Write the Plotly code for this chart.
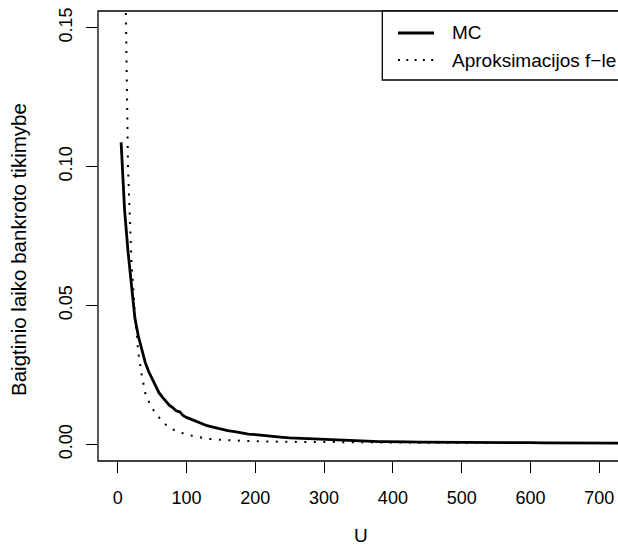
import plotly.graph_objects as go

# ---- data ----
u_mc = [5, 10, 15, 20, 25, 30, 35, 40, 45, 50, 55, 60, 65, 70, 75, 80, 85, 90, 95, 100,
        110, 120, 130, 140, 150, 160, 170, 180, 190, 200, 210, 220, 230, 240, 250, 260,
        270, 280, 290, 300, 310, 320, 330, 340, 350, 360, 370, 380, 390, 400, 420, 440,
        460, 480, 500, 520, 540, 560, 580, 600, 620, 640, 660, 680, 700, 720, 740, 760]
p_mc = [0.1087, 0.0845, 0.0695, 0.0575, 0.0455, 0.0390, 0.0340, 0.0295, 0.0262, 0.0238,
        0.0210, 0.0186, 0.0170, 0.0157, 0.0141, 0.0132, 0.0121, 0.0117, 0.0104, 0.0097,
        0.0086, 0.0077, 0.0067, 0.0061, 0.0054, 0.0049, 0.0046, 0.0041, 0.0037, 0.0035,
        0.0032, 0.0030, 0.0026, 0.0025, 0.0023, 0.0022, 0.0019, 0.0019, 0.0017, 0.0016,
        0.0015, 0.0014, 0.0013, 0.0013, 0.0012, 0.0011, 0.0011, 0.0010, 0.0010, 0.0009,
        0.0009, 0.0008, 0.0008, 0.0007, 0.0007, 0.0007, 0.0006, 0.0006, 0.0006, 0.0006,
        0.0005, 0.0005, 0.0005, 0.0005, 0.0005, 0.0004, 0.0005, 0.0004]

u_apr = [5, 10, 15, 20, 25, 30, 35, 40, 45, 50, 55, 60, 65, 70, 75, 80, 85, 90, 95, 100,
         110, 120, 130, 140, 150, 160, 180, 200, 250, 300, 350, 400, 500, 600, 700, 800]
p_apr = [1.0, 0.19, 0.100, 0.066, 0.047, 0.033, 0.025, 0.0185, 0.0155, 0.0130, 0.0112,
         0.0095, 0.0082, 0.0071, 0.0061, 0.0054, 0.0048, 0.0043, 0.0039, 0.0035, 0.0030,
         0.0024, 0.0020, 0.0018, 0.0016, 0.0015, 0.0013, 0.0011, 0.0009, 0.0008, 0.0007,
         0.0006, 0.0005, 0.0005, 0.0004, 0.0004]

x_ticks = [0, 100, 200, 300, 400, 500, 600, 700]
y_ticks = [0.00, 0.05, 0.10, 0.15]
y_ticktext = ["0.00", "0.05", "0.10", "0.15"]
legend_names = ["MC", "Aproksimacijos f\u2212le"]
x_title = "U"
y_title = "Baigtinio laiko bankroto tikimybe"

# ---- geometry (the original plot region runs a little past the right edge) ----
W, H = 624, 548
L, R, T, B = 98, 0, 11, 87
PW, PH = W - L - R, H - T - B

def px(xp):
    return (xp - L) / PW

def py(yp):
    return (H - B - yp) / PH

FONT = "Liberation Sans, Arial, Helvetica, sans-serif"

fig = go.Figure()
fig.add_trace(go.Scatter(x=u_mc, y=p_mc, mode="lines", name=legend_names[0],
                         line=dict(color="black", width=2.8), showlegend=False))
fig.add_trace(go.Scatter(x=u_apr, y=p_apr, mode="lines", name=legend_names[1],
                         line=dict(color="black", width=2, dash="2px,7.5px"),
                         showlegend=False))

shapes = [
    dict(type="rect", xref="paper", yref="paper", x0=0, x1=1.0, y0=0, y1=1,
         line=dict(color="black", width=1.3), layer="above"),
    dict(type="rect", xref="paper", yref="paper", x0=px(382.3), x1=1.0, y0=py(80), y1=1,
         line=dict(color="black", width=1.3), fillcolor="white", layer="above"),
    dict(type="line", xref="paper", yref="paper", x0=px(398), x1=px(434), y0=py(33), y1=py(33),
         line=dict(color="black", width=2.8), layer="above"),
    dict(type="line", xref="paper", yref="paper", x0=px(398), x1=px(434), y0=py(60), y1=py(60),
         line=dict(color="black", width=2, dash="2px,6.3px"), layer="above"),
]
annotations = [
    dict(text=legend_names[0], xref="paper", yref="paper", x=px(450), y=py(33),
         xanchor="left", yanchor="middle", showarrow=False, font=dict(size=19)),
    dict(text=legend_names[1], xref="paper", yref="paper", x=px(450), y=py(60),
         xanchor="left", yanchor="middle", showarrow=False, font=dict(size=19)),
    dict(text=y_title, xref="paper", yref="paper", x=px(18.5), y=py(249.5),
         xanchor="center", yanchor="middle", textangle=-90, showarrow=False,
         font=dict(size=20.5)),
    dict(text=x_title, xref="paper", yref="paper", x=px(361), y=py(535),
         xanchor="center", yanchor="middle", showarrow=False, font=dict(size=19),
         borderpad=0),
]

fig.update_layout(
    width=W, height=H, margin=dict(l=L, r=R, t=T, b=B, pad=0, autoexpand=False),
    paper_bgcolor="white", plot_bgcolor="white",
    font=dict(family=FONT, size=18, color="black"),
    shapes=shapes, annotations=annotations, showlegend=False,
    xaxis=dict(range=[-28.6, 735.9], tickmode="array", tickvals=x_ticks,
               ticks="outside", ticklen=11, tickwidth=1.2, tickcolor="black",
               showline=False, zeroline=False, showgrid=False, automargin=False,
               ticklabelstandoff=9),
    yaxis=dict(range=[-0.006, 0.156], tickmode="array", tickvals=y_ticks,
               ticktext=y_ticktext, tickangle=-90,
               ticks="outside", ticklen=11, tickwidth=1.2, tickcolor="black",
               showline=False, zeroline=False, showgrid=False, automargin=False,
               ticklabelstandoff=7),
)

fig.write_html(
    "out.html",
    config={"displayModeBar": False},
    post_script="document.body.style.margin='0';document.body.style.overflow='hidden';",
)
